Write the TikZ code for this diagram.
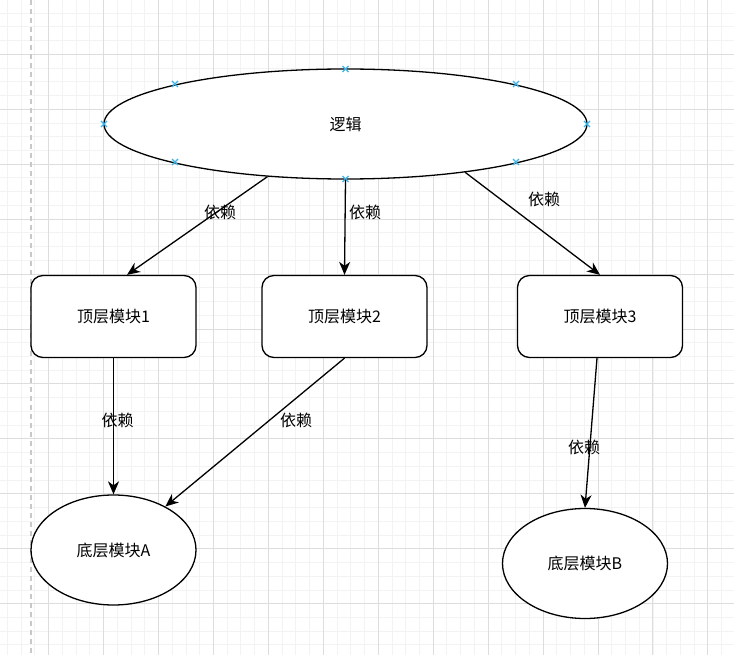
\documentclass[tikz,border=0pt]{standalone}
\usepackage{fontspec}
\setmainfont{Noto Sans CJK SC}
\usetikzlibrary{shapes.geometric,arrows.meta}

\definecolor{gridlight}{HTML}{F3F3F3}
\definecolor{griddark}{HTML}{DDDDDD}
\definecolor{pagedash}{HTML}{C8C8C8}
\definecolor{pointblue}{HTML}{3BB4EA}

\tikzset{
  modbox/.style={draw, line width=1.3pt, rounded corners=12pt, fill=white,
                 minimum width=165pt, minimum height=82pt},
  modell/.style={draw, ellipse, line width=1.3pt, fill=white, inner sep=0pt},
  dep/.style={line width=1.3pt, -{Stealth[length=13pt, width=11pt, inset=4pt]}},
  deplabel/.style={inner sep=1pt},
  pointmark/.style={pointblue, line width=1.2pt}
}

\begin{document}
\begin{tikzpicture}[x=1pt, y=-1pt, font=\fontsize{16}{19}\selectfont]
      \useasboundingbox (0,0) rectangle (734,655);
      % fond quadrillé
      \fill[white] (0,0) rectangle (734,655);
      \foreach \k in {0,...,52} {
        \draw[gridlight, line width=0.9pt] ({7.4+13.735*\k},0) -- ++(0,655);
      }
      \foreach \k in {0,...,46} {
        \draw[gridlight, line width=0.9pt] (0,{13.1+13.735*\k}) -- ++(734,0);
      }
      \foreach \k in {0,...,12} {
        \draw[griddark, line width=0.9pt] ({48.6+54.94*\k},0) -- ++(0,655);
      }
      \foreach \k in {0,...,11} {
        \draw[griddark, line width=0.9pt] (0,{54.3+54.94*\k}) -- ++(734,0);
      }
      % bord de page
      \draw[pagedash, line width=1.5pt, dash pattern=on 5pt off 4pt] (31,0) -- (31,655);

      % logique
      \node[modell, minimum width=483pt, minimum height=110pt] (logic) at (345.5,124) {逻辑};
      % points de connexion
      \foreach \px/\py in {104/124, 587/124, 345.5/69, 345.5/179, 175/84, 516/84, 175/162, 516/162} {
        \draw[pointmark] (\px-3,\py-3) -- (\px+3,\py+3) (\px-3,\py+3) -- (\px+3,\py-3);
      }

      % modules du haut
      \node[modbox] (top1) at (113.5,316.5) {顶层模块1};
      \node[modbox] (top2) at (344.5,316.5) {顶层模块2};
      \node[modbox] (top3) at (600,316.5) {顶层模块3};

      % modules du bas
      \node[modell, minimum width=165pt, minimum height=110pt] (botA) at (113.5,550) {底层模块A};
      \node[modell, minimum width=165pt, minimum height=110pt] (botB) at (585,563.5) {底层模块B};

      % dépendances
      \draw[dep] (logic.214.7) -- ([xshift=13.5pt]top1.north);
      \draw[dep] (logic.south) -- (top2.north);
      \draw[dep] (logic.338.5) -- (top3.north);
      \draw[dep] (top1.south) -- (botA.north);
      \draw[dep] (top2.south) -- (botA.40);
      \draw[dep] ([xshift=-3pt]top3.south) -- (botB.north);

      % étiquettes
      \node[deplabel] (dep1) at (220,212)   {依赖};
      \node[deplabel] (dep2) at (365,212)   {依赖};
      \node[deplabel] (dep3) at (544,199.5) {依赖};
      \node[deplabel] (dep4) at (117.5,420) {依赖};
      \node[deplabel] (dep5) at (296,420)   {依赖};
      \node[deplabel] (dep6) at (584,447.5) {依赖};
\end{tikzpicture}
\end{document}
